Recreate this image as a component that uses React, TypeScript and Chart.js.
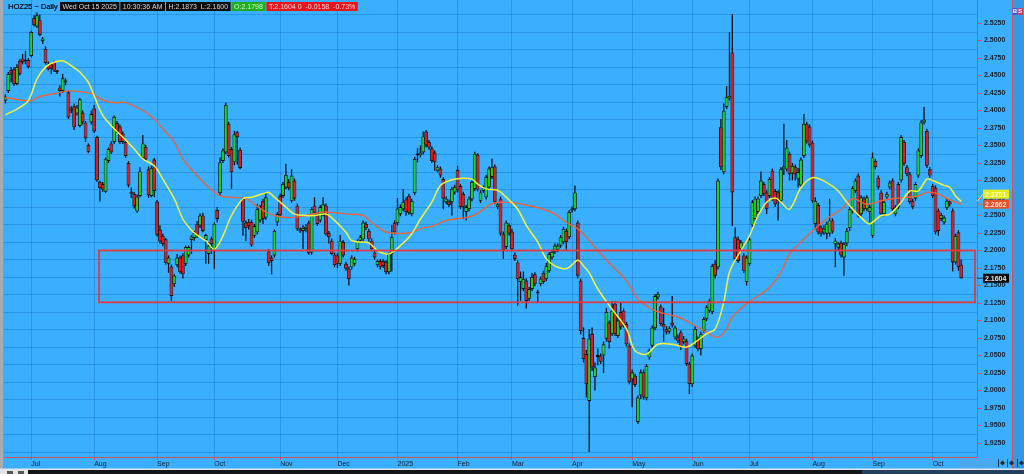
import React, { useEffect, useRef } from "react";
import { Chart, registerables } from "chart.js";

Chart.register(...registerables);

// ---------- categories (trading sessions per month) ----------
const monthNames = ["Jun", "Jul", "Aug", "Sep", "Oct", "Nov", "Dec", "2025", "Feb", "Mar", "Apr", "May", "Jun", "Jul", "Aug", "Sep", "Oct"];
const monthSessions = [9, 22, 22, 20, 23, 20, 21, 21, 19, 21, 21, 21, 20, 22, 21, 21, 11];
const trailingSlots = 5;

// ---------- OHLC ----------
const opens = [
  2.414, 2.428, 2.458, 2.459, 2.438, 2.471, 2.474, 2.470, 2.472,
  2.478, 2.532, 2.520, 2.529, 2.499, 2.488, 2.467, 2.466, 2.469, 2.456, 2.433, 2.428, 2.440, 2.426, 2.400, 2.406, 2.396, 2.378, 2.397, 2.383, 2.351, 2.383,
  2.403, 2.362, 2.298, 2.295, 2.284, 2.328, 2.353, 2.355, 2.382, 2.377, 2.367, 2.355, 2.325, 2.284, 2.281, 2.256, 2.278, 2.332, 2.348, 2.316, 2.278, 2.330,
  2.270, 2.230, 2.221, 2.216, 2.181, 2.177, 2.152, 2.179, 2.190, 2.193, 2.181, 2.193, 2.215, 2.218, 2.238, 2.236, 2.250, 2.215, 2.195, 2.217,
  2.202, 2.258, 2.282, 2.328, 2.340, 2.381, 2.345, 2.326, 2.369, 2.344, 2.274, 2.240, 2.241, 2.241, 2.221, 2.226, 2.243, 2.271, 2.247, 2.199, 2.190, 2.193, 2.240,
  2.278, 2.278, 2.290, 2.298, 2.271, 2.300, 2.264, 2.231, 2.228, 2.231, 2.240, 2.197, 2.264, 2.252, 2.243, 2.252, 2.264, 2.225, 2.214, 2.194,
  2.193, 2.181, 2.212, 2.181, 2.174, 2.176, 2.181, 2.202, 2.214, 2.216, 2.238, 2.228, 2.214, 2.197, 2.179, 2.185, 2.185, 2.183, 2.169, 2.195, 2.240,
  2.239, 2.252, 2.259, 2.273, 2.278, 2.252, 2.282, 2.336, 2.336, 2.340, 2.370, 2.355, 2.346, 2.340, 2.314, 2.317, 2.302, 2.269, 2.270, 2.269, 2.283,
  2.315, 2.292, 2.281, 2.255, 2.259, 2.273, 2.288, 2.337, 2.271, 2.285, 2.276, 2.290, 2.305, 2.320, 2.262, 2.274, 2.224, 2.205, 2.236,
  2.227, 2.194, 2.183, 2.155, 2.145, 2.157, 2.131, 2.145, 2.166, 2.141, 2.152, 2.168, 2.159, 2.171, 2.190, 2.198, 2.201, 2.207, 2.212, 2.228, 2.219,
  2.257, 2.259, 2.240, 2.157, 2.075, 2.052, 1.985, 2.081, 2.019, 2.048, 2.050, 2.050, 2.074, 2.097, 2.081, 2.124, 2.078, 2.112, 2.114, 2.095, 2.064,
  2.016, 2.021, 1.955, 1.993, 2.026, 1.989, 2.047, 2.064, 2.089, 2.133, 2.120, 2.095, 2.088, 2.084, 2.097, 2.076, 2.076, 2.083, 2.069, 2.071, 2.038,
  2.009, 2.064, 2.074, 2.059, 2.085, 2.102, 2.114, 2.112, 2.181, 2.176, 2.376, 2.312, 2.405, 2.417, 2.483, 2.219, 2.216, 2.202, 2.193, 2.155,
  2.181, 2.236, 2.245, 2.255, 2.278, 2.295, 2.283, 2.278, 2.314, 2.285, 2.283, 2.271, 2.316, 2.316, 2.338, 2.310, 2.320, 2.302, 2.293, 2.335, 2.381, 2.377,
  2.354, 2.238, 2.265, 2.233, 2.226, 2.224, 2.224, 2.243, 2.209, 2.204, 2.211, 2.190, 2.210, 2.232, 2.256, 2.285, 2.307, 2.252, 2.274, 2.259, 2.255,
  2.221, 2.328, 2.304, 2.283, 2.252, 2.276, 2.290, 2.300, 2.252, 2.295, 2.300, 2.355, 2.319, 2.309, 2.271, 2.274, 2.307, 2.335, 2.383, 2.371, 2.316,
  2.292, 2.290, 2.257, 2.245, 2.240, 2.261, 2.270, 2.257, 2.183, 2.226, 2.1798,
];
const highs = [
  2.423, 2.455, 2.462, 2.462, 2.466, 2.474, 2.481, 2.485, 2.475,
  2.514, 2.536, 2.540, 2.537, 2.505, 2.492, 2.470, 2.468, 2.471, 2.458, 2.436, 2.452, 2.446, 2.428, 2.406, 2.410, 2.408, 2.418, 2.400, 2.385, 2.353, 2.400,
  2.408, 2.364, 2.300, 2.298, 2.333, 2.347, 2.356, 2.393, 2.385, 2.380, 2.370, 2.358, 2.328, 2.290, 2.284, 2.280, 2.319, 2.365, 2.351, 2.320, 2.321, 2.332,
  2.272, 2.236, 2.224, 2.218, 2.193, 2.180, 2.166, 2.195, 2.193, 2.196, 2.207, 2.207, 2.222, 2.228, 2.242, 2.253, 2.254, 2.224, 2.212, 2.220,
  2.240, 2.262, 2.333, 2.346, 2.411, 2.384, 2.348, 2.371, 2.371, 2.347, 2.276, 2.243, 2.245, 2.244, 2.238, 2.266, 2.265, 2.274, 2.283, 2.202, 2.193, 2.230, 2.255,
  2.281, 2.298, 2.324, 2.302, 2.316, 2.303, 2.267, 2.233, 2.236, 2.238, 2.243, 2.262, 2.276, 2.255, 2.265, 2.276, 2.267, 2.228, 2.217, 2.197,
  2.196, 2.222, 2.215, 2.184, 2.177, 2.193, 2.191, 2.216, 2.222, 2.243, 2.241, 2.231, 2.217, 2.200, 2.187, 2.188, 2.188, 2.186, 2.197, 2.236, 2.243,
  2.275, 2.266, 2.288, 2.276, 2.281, 2.274, 2.334, 2.346, 2.350, 2.370, 2.372, 2.358, 2.349, 2.343, 2.322, 2.320, 2.305, 2.277, 2.273, 2.291, 2.294,
  2.321, 2.295, 2.284, 2.265, 2.277, 2.300, 2.341, 2.339, 2.286, 2.293, 2.308, 2.320, 2.331, 2.323, 2.268, 2.277, 2.227, 2.243, 2.239,
  2.231, 2.197, 2.186, 2.170, 2.170, 2.160, 2.148, 2.168, 2.169, 2.144, 2.163, 2.171, 2.182, 2.198, 2.201, 2.210, 2.210, 2.222, 2.234, 2.231, 2.258,
  2.263, 2.293, 2.243, 2.160, 2.090, 2.058, 2.088, 2.090, 2.040, 2.060, 2.053, 2.070, 2.118, 2.100, 2.128, 2.128, 2.104, 2.126, 2.117, 2.098, 2.067,
  2.030, 2.024, 1.993, 2.030, 2.030, 2.038, 2.060, 2.093, 2.138, 2.141, 2.123, 2.118, 2.092, 2.092, 2.135, 2.093, 2.080, 2.086, 2.078, 2.074, 2.041,
  2.053, 2.092, 2.077, 2.084, 2.105, 2.122, 2.131, 2.181, 2.186, 2.303, 2.388, 2.410, 2.435, 2.512, 2.538, 2.233, 2.220, 2.215, 2.196, 2.193,
  2.219, 2.272, 2.277, 2.277, 2.313, 2.298, 2.286, 2.305, 2.317, 2.288, 2.286, 2.319, 2.381, 2.358, 2.341, 2.325, 2.323, 2.318, 2.333, 2.395, 2.384, 2.380,
  2.357, 2.276, 2.268, 2.236, 2.236, 2.241, 2.274, 2.246, 2.218, 2.212, 2.214, 2.212, 2.232, 2.262, 2.292, 2.303, 2.310, 2.279, 2.277, 2.279, 2.265,
  2.340, 2.331, 2.307, 2.286, 2.272, 2.284, 2.300, 2.303, 2.265, 2.298, 2.365, 2.358, 2.322, 2.312, 2.274, 2.298, 2.346, 2.386, 2.405, 2.374, 2.319,
  2.295, 2.293, 2.260, 2.254, 2.250, 2.274, 2.273, 2.260, 2.224, 2.229, 2.1873,
];
const lows = [
  2.410, 2.425, 2.440, 2.435, 2.436, 2.450, 2.466, 2.466, 2.460,
  2.476, 2.520, 2.518, 2.506, 2.495, 2.466, 2.457, 2.452, 2.455, 2.452, 2.420, 2.425, 2.436, 2.388, 2.396, 2.372, 2.393, 2.376, 2.380, 2.355, 2.339, 2.380,
  2.368, 2.298, 2.270, 2.284, 2.282, 2.325, 2.338, 2.352, 2.368, 2.352, 2.352, 2.332, 2.290, 2.275, 2.260, 2.254, 2.276, 2.330, 2.328, 2.275, 2.276, 2.276,
  2.220, 2.210, 2.206, 2.180, 2.168, 2.128, 2.148, 2.176, 2.167, 2.160, 2.178, 2.190, 2.195, 2.214, 2.218, 2.232, 2.226, 2.181, 2.181, 2.195,
  2.174, 2.240, 2.278, 2.325, 2.338, 2.333, 2.288, 2.322, 2.323, 2.316, 2.221, 2.214, 2.230, 2.205, 2.218, 2.223, 2.240, 2.238, 2.244, 2.178, 2.166, 2.190, 2.235,
  2.248, 2.275, 2.288, 2.286, 2.268, 2.271, 2.228, 2.225, 2.202, 2.226, 2.194, 2.194, 2.252, 2.235, 2.240, 2.249, 2.221, 2.210, 2.193, 2.176,
  2.175, 2.178, 2.190, 2.171, 2.150, 2.173, 2.178, 2.199, 2.212, 2.213, 2.229, 2.213, 2.199, 2.187, 2.176, 2.173, 2.175, 2.166, 2.166, 2.170, 2.223,
  2.236, 2.249, 2.256, 2.250, 2.251, 2.249, 2.279, 2.326, 2.333, 2.337, 2.347, 2.344, 2.325, 2.314, 2.311, 2.304, 2.259, 2.266, 2.262, 2.250, 2.280,
  2.283, 2.259, 2.245, 2.243, 2.256, 2.270, 2.285, 2.284, 2.268, 2.282, 2.273, 2.287, 2.302, 2.266, 2.259, 2.221, 2.188, 2.202, 2.221,
  2.199, 2.185, 2.121, 2.128, 2.142, 2.117, 2.128, 2.142, 2.149, 2.125, 2.149, 2.152, 2.156, 2.168, 2.187, 2.195, 2.198, 2.204, 2.209, 2.200, 2.216,
  2.254, 2.256, 2.160, 2.080, 2.040, 1.990, 1.912, 2.028, 2.000, 2.036, 2.038, 2.025, 2.070, 2.060, 2.078, 2.078, 2.075, 2.087, 2.090, 2.063, 2.009,
  1.976, 2.005, 1.952, 1.988, 1.987, 1.986, 2.044, 2.061, 2.086, 2.130, 2.092, 2.070, 2.080, 2.081, 2.090, 2.073, 2.068, 2.058, 2.066, 2.035, 1.995,
  2.005, 2.061, 2.056, 2.050, 2.082, 2.099, 2.111, 2.109, 2.160, 2.173, 2.315, 2.309, 2.402, 2.414, 2.235, 2.185, 2.182, 2.199, 2.168, 2.150,
  2.178, 2.233, 2.242, 2.252, 2.275, 2.278, 2.252, 2.275, 2.271, 2.262, 2.243, 2.268, 2.308, 2.313, 2.300, 2.300, 2.300, 2.290, 2.290, 2.332, 2.353, 2.347,
  2.268, 2.230, 2.223, 2.220, 2.222, 2.216, 2.220, 2.224, 2.176, 2.200, 2.190, 2.164, 2.206, 2.228, 2.253, 2.282, 2.247, 2.249, 2.256, 2.256, 2.240,
  2.218, 2.316, 2.287, 2.249, 2.249, 2.273, 2.287, 2.256, 2.249, 2.259, 2.297, 2.321, 2.306, 2.266, 2.259, 2.271, 2.304, 2.332, 2.380, 2.318, 2.304,
  2.275, 2.223, 2.221, 2.242, 2.237, 2.258, 2.263, 2.170, 2.180, 2.171, 2.1600,
];
const closes = [
  2.420, 2.452, 2.453, 2.438, 2.462, 2.452, 2.469, 2.472, 2.462,
  2.512, 2.522, 2.536, 2.508, 2.503, 2.468, 2.459, 2.460, 2.457, 2.455, 2.428, 2.446, 2.443, 2.390, 2.403, 2.376, 2.404, 2.416, 2.383, 2.360, 2.341, 2.395,
  2.370, 2.300, 2.289, 2.287, 2.331, 2.345, 2.340, 2.391, 2.371, 2.355, 2.355, 2.335, 2.293, 2.281, 2.263, 2.277, 2.313, 2.353, 2.330, 2.279, 2.318, 2.285,
  2.222, 2.213, 2.209, 2.182, 2.190, 2.135, 2.164, 2.190, 2.169, 2.166, 2.205, 2.205, 2.220, 2.225, 2.221, 2.250, 2.228, 2.222, 2.207, 2.209,
  2.238, 2.245, 2.326, 2.343, 2.408, 2.335, 2.312, 2.366, 2.362, 2.318, 2.241, 2.232, 2.235, 2.207, 2.235, 2.259, 2.262, 2.245, 2.276, 2.182, 2.185, 2.228, 2.252,
  2.250, 2.295, 2.308, 2.289, 2.307, 2.274, 2.231, 2.227, 2.232, 2.234, 2.196, 2.259, 2.254, 2.238, 2.262, 2.266, 2.223, 2.219, 2.195, 2.179,
  2.181, 2.214, 2.193, 2.174, 2.159, 2.190, 2.188, 2.214, 2.219, 2.240, 2.232, 2.216, 2.202, 2.190, 2.185, 2.176, 2.178, 2.169, 2.195, 2.219, 2.226,
  2.260, 2.262, 2.269, 2.255, 2.254, 2.271, 2.331, 2.338, 2.340, 2.363, 2.350, 2.347, 2.328, 2.326, 2.319, 2.307, 2.274, 2.274, 2.265, 2.288, 2.291,
  2.286, 2.262, 2.262, 2.262, 2.274, 2.298, 2.338, 2.287, 2.283, 2.290, 2.305, 2.317, 2.319, 2.269, 2.266, 2.224, 2.200, 2.240, 2.224,
  2.202, 2.188, 2.159, 2.162, 2.159, 2.128, 2.145, 2.162, 2.152, 2.139, 2.160, 2.155, 2.178, 2.195, 2.198, 2.207, 2.207, 2.219, 2.231, 2.212, 2.255,
  2.260, 2.283, 2.164, 2.085, 2.045, 2.009, 2.074, 2.033, 2.033, 2.050, 2.041, 2.066, 2.112, 2.069, 2.114, 2.081, 2.100, 2.090, 2.093, 2.066, 2.012,
  2.026, 2.008, 1.990, 2.026, 1.990, 2.035, 2.057, 2.090, 2.135, 2.138, 2.095, 2.090, 2.083, 2.089, 2.093, 2.090, 2.071, 2.062, 2.074, 2.038, 2.009,
  2.050, 2.088, 2.059, 2.081, 2.102, 2.119, 2.128, 2.178, 2.164, 2.300, 2.319, 2.400, 2.419, 2.421, 2.283, 2.188, 2.185, 2.212, 2.171, 2.190,
  2.216, 2.269, 2.274, 2.274, 2.300, 2.281, 2.259, 2.302, 2.274, 2.266, 2.271, 2.316, 2.320, 2.347, 2.309, 2.321, 2.309, 2.312, 2.330, 2.381, 2.356, 2.350,
  2.271, 2.271, 2.226, 2.224, 2.231, 2.238, 2.243, 2.227, 2.214, 2.210, 2.193, 2.209, 2.228, 2.259, 2.289, 2.300, 2.250, 2.276, 2.259, 2.276, 2.262,
  2.333, 2.319, 2.290, 2.252, 2.269, 2.281, 2.297, 2.259, 2.262, 2.262, 2.362, 2.324, 2.309, 2.269, 2.262, 2.295, 2.343, 2.383, 2.387, 2.321, 2.307,
  2.278, 2.226, 2.228, 2.251, 2.247, 2.271, 2.266, 2.183, 2.221, 2.1762, 2.1604,
];

// ---------- moving averages (sampled session index -> value) ----------
const fastMaIdx = [0, 4, 8, 11, 14, 17, 20, 23, 26, 29, 31, 34, 38, 41, 45, 48, 52, 55, 59, 62, 65, 67, 70, 73, 76, 79, 83, 86, 90, 92, 94, 98, 101, 105, 108, 112, 115, 119, 121, 125, 127, 130, 134, 138, 142, 145, 149, 152, 156, 159, 163, 165, 168, 172, 175, 179, 182, 186, 189, 192, 195, 197, 200, 202, 204, 207, 212, 217, 220, 224, 228, 233, 238, 241, 245, 248, 251, 253, 256, 260, 263, 266, 269, 271, 274, 278, 282, 287, 291, 295, 300, 302, 306, 309, 313, 316, 319, 322, 324, 328, 330, 332, 334];
const fastMaVal = [2.394, 2.402, 2.414, 2.445, 2.462, 2.469, 2.471, 2.464, 2.455, 2.440, 2.421, 2.393, 2.374, 2.362, 2.345, 2.331, 2.321, 2.302, 2.274, 2.245, 2.229, 2.222, 2.214, 2.202, 2.221, 2.250, 2.274, 2.276, 2.281, 2.283, 2.276, 2.262, 2.252, 2.250, 2.250, 2.252, 2.243, 2.226, 2.214, 2.212, 2.211, 2.200, 2.195, 2.207, 2.224, 2.245, 2.269, 2.293, 2.301, 2.303, 2.302, 2.295, 2.288, 2.286, 2.276, 2.259, 2.236, 2.212, 2.188, 2.178, 2.174, 2.176, 2.186, 2.178, 2.168, 2.145, 2.116, 2.088, 2.057, 2.052, 2.066, 2.066, 2.062, 2.069, 2.081, 2.088, 2.126, 2.169, 2.193, 2.221, 2.250, 2.269, 2.275, 2.269, 2.259, 2.290, 2.304, 2.297, 2.285, 2.264, 2.243, 2.238, 2.250, 2.252, 2.269, 2.285, 2.285, 2.302, 2.300, 2.293, 2.290, 2.278, 2.2701];
const slowMaIdx = [0, 5, 9, 12, 17, 22, 26, 30, 34, 38, 41, 44, 48, 52, 55, 59, 62, 66, 71, 75, 79, 84, 87, 91, 95, 100, 105, 111, 115, 120, 125, 128, 132, 135, 141, 145, 150, 154, 159, 163, 166, 170, 173, 178, 182, 187, 192, 196, 200, 203, 207, 212, 217, 221, 226, 231, 235, 240, 245, 249, 252, 254, 259, 263, 267, 271, 274, 278, 282, 287, 292, 296, 301, 306, 310, 315, 319, 322, 326, 329, 334];
const slowMaVal = [2.419, 2.415, 2.414, 2.420, 2.424, 2.428, 2.427, 2.424, 2.415, 2.411, 2.412, 2.408, 2.400, 2.388, 2.374, 2.355, 2.331, 2.311, 2.290, 2.278, 2.276, 2.274, 2.266, 2.255, 2.249, 2.247, 2.250, 2.255, 2.254, 2.252, 2.250, 2.240, 2.228, 2.225, 2.225, 2.231, 2.236, 2.243, 2.246, 2.249, 2.256, 2.267, 2.269, 2.268, 2.265, 2.260, 2.252, 2.240, 2.231, 2.219, 2.200, 2.178, 2.157, 2.131, 2.116, 2.109, 2.105, 2.095, 2.083, 2.076, 2.088, 2.105, 2.124, 2.135, 2.147, 2.169, 2.195, 2.212, 2.228, 2.245, 2.259, 2.274, 2.266, 2.271, 2.274, 2.276, 2.278, 2.283, 2.281, 2.274, 2.2662];

// ---------- axis / annotation values ----------
const yMin = 1.905;
const yMax = 2.55786;
const yTickFirst = 1.925;
const yTickLast = 2.525;
const yStep = 0.025;
const zoneFrom = 32.7;
const zoneTo = 338.8;
const zoneTop = 2.2;
const zoneBottom = 2.126;
const headerSymbol = "HOZ25 ~ Daily";
const headerDate = "Wed Oct 15 2025";
const headerTime = "10:30:36 AM";

// ---------- styling ----------
const BG = "#3aaffe";
const GRID = "rgba(20,115,200,0.42)";
const AXIS_RED = "#d4505e";
const UP = "#22d022";
const DOWN = "#f01414";
const OUTLINE = "#081410";
const FAST = "#f2f23c";
const SLOW = "#e8643e";
const TEXT = "#142030";
const FONT = "'Liberation Sans', 'DejaVu Sans', Arial, sans-serif";

const N = closes.length;
const categories: string[] = [];
const tickText: string[] = [];
monthSessions.forEach((n, m) => {
  for (let d = 0; d < n; d++) {
    categories.push(`${m}-${d}`);
    tickText.push(d === 0 && m > 0 ? monthNames[m] : "");
  }
});
for (let k = 0; k < trailingSlots; k++) {
  categories.push(`pad-${k}`);
  tickText.push("");
}

function sparse(idx: number[], val: number[]) {
  const arr: (number | null)[] = new Array(N).fill(null);
  idx.forEach((i, k) => {
    arr[i] = val[k];
  });
  return arr;
}

const bodies = opens.map((o, i) => [Math.min(o, closes[i]), Math.max(o, closes[i])]);
const wicks = lows.map((l, i) => [l, highs[i]]);
const bodyColors = opens.map((o, i) => (closes[i] >= o ? UP : DOWN));

const bgPlugin = {
  id: "bg",
  beforeDraw(chart: any) {
    const c = chart.ctx;
    c.save();
    c.fillStyle = BG;
    c.fillRect(0, 0, chart.width, chart.height);
    c.fillStyle = "#a9adb2";
    c.fillRect(0, 0, 3, chart.height);
    c.fillStyle = "#3499e0";
    c.fillRect(1013, 0, chart.width - 1013, chart.height);
    c.restore();
  },
};

const gridPlugin = {
  id: "hgrid",
  beforeDatasetsDraw(chart: any) {
    const c = chart.ctx;
    const y = chart.scales.y;
    const a = chart.chartArea;
    c.save();
    c.strokeStyle = GRID;
    c.lineWidth = 1;
    for (let v = yTickFirst - yStep / 2; v <= yTickLast + yStep; v += yStep) {
      const py = Math.round(y.getPixelForValue(v)) + 0.5;
      if (py < a.top || py > a.bottom) continue;
      c.beginPath();
      c.moveTo(a.left, py);
      c.lineTo(a.right, py);
      c.stroke();
    }
    c.restore();
  },
};

const zonePlugin = {
  id: "zone",
  afterDatasetsDraw(chart: any) {
    const c = chart.ctx;
    const x = chart.scales.x;
    const y = chart.scales.y;
    const x0 = x.getPixelForValue(zoneFrom);
    const x1 = x.getPixelForValue(zoneTo);
    const y0 = y.getPixelForValue(zoneTop);
    const y1 = y.getPixelForValue(zoneBottom);
    c.save();
    c.strokeStyle = "#e23a40";
    c.lineWidth = 1.8;
    c.strokeRect(x0, y0, x1 - x0, y1 - y0);
    c.restore();
  },
};

function box(c: CanvasRenderingContext2D, x: number, y: number, text: string, bg: string, fg: string) {
  const w = c.measureText(text).width + 5;
  c.fillStyle = bg;
  c.fillRect(x, y, w, 9);
  c.fillStyle = fg;
  c.fillText(text, x + 2.5, y + 4.8);
  return x + w + 1;
}

const overlayPlugin = {
  id: "overlay",
  afterDraw(chart: any) {
    const c: CanvasRenderingContext2D = chart.ctx;
    const y = chart.scales.y;
    const a = chart.chartArea;
    c.save();
    c.strokeStyle = AXIS_RED;
    c.lineWidth = 1;
    c.beginPath();
    c.moveTo(1012.5, 0);
    c.lineTo(1012.5, 469);
    c.moveTo(a.right + 0.5, a.bottom);
    c.lineTo(a.right + 0.5, 469);
    c.stroke();

    // header
    c.textBaseline = "middle";
    c.font = `7.5px ${FONT}`;
    c.fillStyle = "#0c1622";
    c.fillText(headerSymbol, 8, 7);
    c.fillText(headerSymbol, 8.3, 7);
    c.font = `7px ${FONT}`;
    const last = N - 1;
    const chg = closes[last] - closes[last - 1];
    const pct = (chg / closes[last - 1]) * 100;
    let hx = 60;
    hx = box(c, hx, 2, headerDate, "#0b0b0b", "#d6d6d6");
    hx = box(c, hx, 2, headerTime, "#0b0b0b", "#d6d6d6");
    hx = box(c, hx, 2, `H:${highs[last].toFixed(4)}  L:${lows[last].toFixed(4)}`, "#0b0b0b", "#d6d6d6");
    hx = box(c, hx, 2, `O:${opens[last].toFixed(4)}`, "#1fae1f", "#d8f5d8");
    hx = box(c, hx, 2, `T:${closes[last].toFixed(4)} 0  ${chg.toFixed(4)}  ${pct.toFixed(2)}%`, "#e8141c", "#ffd6d6");

    // B / S boxes
    c.font = `bold 6px ${FONT}`;
    c.fillStyle = "#3c5ae0";
    c.fillRect(1012.5, 8, 4.5, 7);
    c.fillStyle = "#c8405a";
    c.fillRect(1017.5, 8, 5.5, 7);
    c.fillStyle = "#ffffff";
    c.fillText("B", 1012.8, 11.7);
    c.fillText("S", 1018.3, 11.7);

    // price labels
    const lastFast = fastMaVal[fastMaVal.length - 1];
    const lastSlow = slowMaVal[slowMaVal.length - 1];
    const pSlow = y.getPixelForValue(lastSlow);
    const pFast = y.getPixelForValue(lastFast);
    const pClose = y.getPixelForValue(closes[last]);
    const bySlow = pSlow;
    const byFast = Math.min(pFast, pSlow - 10);
    c.font = `bold 7px ${FONT}`;
    const tag = (vy: number, by: number, text: string, bg: string, fg: string, lineCol: string) => {
      c.strokeStyle = lineCol;
      c.lineWidth = 1;
      c.beginPath();
      c.moveTo(a.right, vy);
      c.lineTo(983, by);
      c.stroke();
      c.fillStyle = bg;
      c.fillRect(983, by - 4.5, 26, 9);
      c.fillStyle = fg;
      c.fillText(text, 985, by + 0.5);
    };
    tag(pSlow, bySlow, lastSlow.toFixed(4), "#e2502c", "#ffe6dc", SLOW);
    tag(pFast, byFast, lastFast.toFixed(4), "#e6ec1c", "#fbfbe8", FAST);
    tag(pClose, pClose, closes[last].toFixed(4), "#0b0b0b", "#e8e8e8", "#333");

    // bottom strip
    c.fillStyle = "#dfe8f0";
    c.fillRect(0, 468.5, chart.width, 1.5);
    c.fillStyle = "#e4e4e4";
    c.fillRect(0, 470, 28, 4);
    c.fillStyle = "#121416";
    c.fillRect(28, 470, 834, 4);
    c.fillStyle = "#24405e";
    c.fillRect(862, 470, chart.width - 862, 4);
    c.fillStyle = "#555";
    c.fillRect(7, 471, 6, 3);
    c.fillRect(18, 471, 6, 3);
    c.fillStyle = "#4aa8ee";
    c.fillRect(960, 458, 33, 10);
    c.fillStyle = "#1c2a3a";
    [998, 1007, 1017].forEach((bx) => {
      c.fillRect(bx, 459, 1, 8);
      c.beginPath();
      c.moveTo(bx + 2, 463);
      c.lineTo(bx + 4.5, 460.5);
      c.lineTo(bx + 7, 463);
      c.lineTo(bx + 4.5, 465.5);
      c.closePath();
      c.fill();
    });
    c.restore();
  },
};

export default function App() {
  const ref = useRef<HTMLCanvasElement>(null);
  useEffect(() => {
    document.body.style.margin = "0";
    Chart.defaults.font.family = FONT;
    const chart = new Chart(ref.current as HTMLCanvasElement, {
      type: "bar",
      data: {
        labels: categories,
        datasets: [
          {
            type: "line",
            label: "fast",
            data: sparse(fastMaIdx, fastMaVal),
            borderColor: FAST,
            borderWidth: 1.5,
            pointRadius: 0,
            spanGaps: true,
            tension: 0.35,
            order: 0,
          } as any,
          {
            type: "line",
            label: "slow",
            data: sparse(slowMaIdx, slowMaVal),
            borderColor: SLOW,
            borderWidth: 1.4,
            pointRadius: 0,
            spanGaps: true,
            tension: 0.35,
            order: 1,
          } as any,
          {
            type: "bar",
            label: "body",
            data: bodies,
            backgroundColor: bodyColors,
            borderColor: OUTLINE,
            borderWidth: 0.9,
            borderSkipped: false,
            barThickness: 3.8,
            grouped: false,
            minBarLength: 1.8,
            inflateAmount: 0,
            order: 2,
          } as any,
          {
            type: "bar",
            label: "wick",
            data: wicks,
            backgroundColor: "#06101a",
            borderWidth: 0,
            barThickness: 1.3,
            grouped: false,
            inflateAmount: 0,
            order: 3,
          } as any,
        ],
      },
      options: {
        responsive: false,
        maintainAspectRatio: false,
        devicePixelRatio: 1,
        animation: false,
        events: [],
        layout: { padding: { left: 4, right: 11, top: 0, bottom: 0 } },
        plugins: { legend: { display: false }, tooltip: { enabled: false } },
        scales: {
          x: {
            type: "category",
            offset: true,
            grid: {
              offset: false,
              color: (ctx: any) => (tickText[ctx.index] ? GRID : "rgba(0,0,0,0)"),
              tickColor: (ctx: any) => (tickText[ctx.index] ? AXIS_RED : "rgba(0,0,0,0)"),
              tickLength: 3,
              lineWidth: 1,
            },
            border: { color: AXIS_RED, width: 1 },
            ticks: {
              autoSkip: false,
              maxRotation: 0,
              minRotation: 0,
              align: "start",
              padding: 0,
              color: TEXT,
              font: { size: 7, family: FONT },
              callback: (_v: any, i: number) => tickText[i],
            },
            afterFit: (s: any) => {
              s.height = 17;
              s.paddingLeft = 0;
              s.paddingRight = 0;
            },
          },
          y: {
            position: "right",
            min: yMin,
            max: yMax,
            grid: { drawOnChartArea: false, color: "rgba(0,0,0,0)", tickColor: AXIS_RED, tickLength: 4 },
            border: { color: AXIS_RED, width: 1 },
            ticks: {
              stepSize: yStep,
              includeBounds: false,
              padding: 3,
              color: TEXT,
              font: { size: 7, weight: "bold", family: FONT },
              callback: (v: any) => Number(v).toFixed(4),
            },
            afterBuildTicks: (s: any) => {
              s.ticks = s.ticks.filter((t: any) => t.value >= yTickFirst - 1e-6 && t.value <= yTickLast + 1e-6);
            },
            afterFit: (s: any) => {
              s.width = 36;
              s.paddingTop = 0;
              s.paddingBottom = 0;
            },
          },
        },
      } as any,
      plugins: [bgPlugin, gridPlugin, zonePlugin, overlayPlugin],
    });
    return () => chart.destroy();
  }, []);

  return (
    <div style={{ position: "fixed", left: 0, top: 0, width: 1024, height: 474, overflow: "hidden", background: BG }}>
      <canvas ref={ref} width={1024} height={474} style={{ display: "block", width: 1024, height: 474 }} />
    </div>
  );
}
